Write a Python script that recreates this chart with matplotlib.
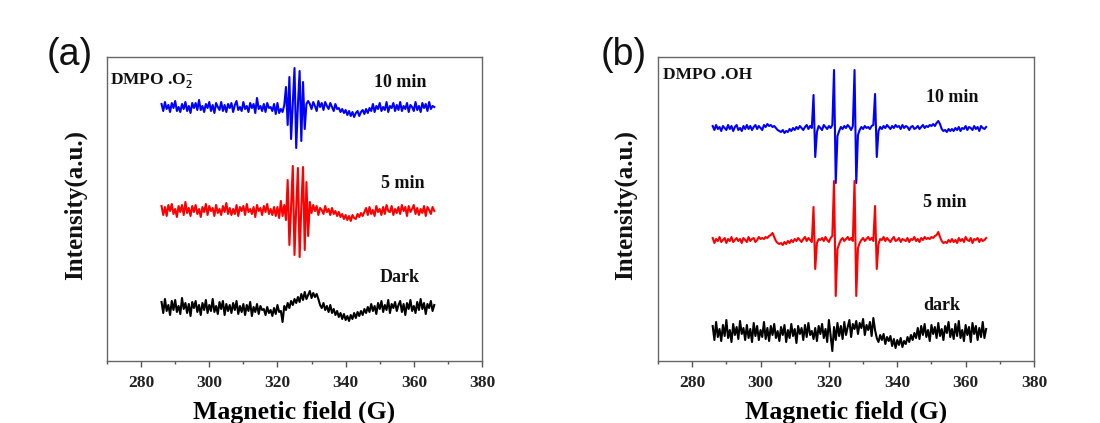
import numpy as np
import matplotlib
matplotlib.use("Agg")
import matplotlib.pyplot as plt
from matplotlib.ticker import MultipleLocator

plt.rcParams['mathtext.fontset'] = 'custom'
plt.rcParams['mathtext.rm'] = 'Liberation Serif:bold'
plt.rcParams['mathtext.it'] = 'Liberation Serif:bold'
plt.rcParams['mathtext.bf'] = 'Liberation Serif:bold'

# ---------------- data ----------------
field = np.arange(286.0, 366.01, 0.5)   # magnetic field (G), sampling of traces

# Panel (a): DMPO-O2-  (intensity relative to each trace baseline, a.u.)
a_10min = [3,-4,5,-2,2,-5,4,-1,6,-4,0,-5,3,-2,5,-4,1,-6,4,-1,
           4,-3,7,-3,1,-5,3,-1,5,-4,2,-6,4,0,-3,5,-4,2,-5,3,
           -1,4,-5,2,6,-3,0,-4,5,-2,1,-5,4,-1,3,-6,9,-2,1,-4,
           3,-5,4,-1,0,-4,3,-7,4,-6,-2,-5,2,20,-18,30,-32,4,39,-41,
           2,36,-34,25,-22,3,6,3,-2,5,1,-4,6,0,4,-3,5,1,-2,4,
           0,-4,3,-2,-1,-5,-2,-6,-3,-8,-4,-9,-5,-10,-6,-4,-9,-5,-3,-7,
           -2,-6,-1,-4,3,-5,1,-2,4,-4,0,-3,5,-5,1,-1,4,-4,2,-3,
           5,-4,1,-2,4,-5,2,0,-4,5,-3,1,-5,4,-1,3,-4,5,-2,1,
           0]
a_5min = [4,-5,3,-6,5,-1,6,-4,1,-7,4,-2,5,-5,8,-3,2,-6,4,-2,
          5,-4,1,-7,3,-2,6,-5,4,-1,2,-6,5,-3,1,-5,4,-2,7,-4,
          2,-5,1,-4,5,-6,3,-1,4,-5,6,-2,1,-4,3,-7,5,-1,2,-5,
          4,-2,6,-4,1,-5,3,-6,3,-8,9,-6,5,-10,30,-35,3,44,-45,2,
          42,-47,3,43,-40,28,-26,8,-3,5,-1,4,-5,2,0,-4,4,-2,1,-5,
          2,-4,-1,-6,-2,-7,-4,-9,-5,-10,-6,-11,-5,-8,-9,-4,-7,-3,-6,-2,
          2,-5,3,-4,0,-6,4,-2,1,-5,3,-4,5,-1,-2,4,-5,1,-3,3,
          -4,5,-1,3,-6,4,-2,1,5,-4,2,-5,1,-3,4,-6,3,0,-4,3,
          -1]
a_dark = [5,-6,8,-4,2,-8,6,-3,7,-5,1,-7,9,-2,4,-6,3,-9,5,-1,
          6,-5,2,-8,4,-3,7,-6,2,-4,8,-5,1,-7,5,-2,6,-8,3,-4,
          2,-6,4,-3,6,-7,1,-5,3,-8,2,-4,5,-9,0,-5,3,-7,1,-3,
          -2,-8,0,-6,-3,-9,-1,-7,2,-5,-4,-15,1,-3,4,-1,6,2,8,4,
          10,5,13,7,15,8,12,16,9,14,10,13,8,2,-1,4,-3,1,-5,2,
          -6,-2,-8,-4,-10,-6,-12,-7,-13,-9,-14,-8,-12,-6,-11,-5,-9,-4,-8,-2,
          -6,0,-5,3,-4,1,-7,4,-2,6,-5,2,-3,7,-6,3,-1,5,-4,2,
          6,-5,3,-8,4,-2,7,-4,1,-6,5,-3,8,-2,4,-7,3,-1,6,-4,
          2]

# Panel (b): DMPO-OH
b_10min = [2,-2,3,-1,1,-3,2,0,-2,3,-1,2,-3,1,3,-2,0,-3,2,-1,
           3,-1,2,-2,1,3,-1,2,0,-2,3,1,4,2,3,1,2,0,-2,-3,
           -4,-2,-5,-3,-4,-1,-3,0,-2,1,-1,2,0,-2,1,3,-1,2,0,33,
           -29,-4,2,0,-2,3,1,-1,2,0,3,58,-55,-8,-3,1,-1,2,0,3,
           1,-2,2,58,-55,-7,-2,1,-1,2,0,1,-1,2,3,34,-29,-3,1,-1,
           2,0,3,1,-1,2,0,3,1,2,-1,3,0,2,1,-2,1,2,-1,0,
           2,-1,1,3,0,2,1,3,2,4,2,5,7,4,-1,-3,-2,-4,-1,-3,
           -1,-3,0,-2,1,-3,0,-1,2,-2,1,0,-2,2,-1,1,-3,2,0,-1,
           1]
b_5min = [2,-3,1,-1,3,-2,0,2,-3,1,-1,3,-2,0,2,-1,1,-3,2,0,
          -2,3,-1,1,2,-2,0,3,1,2,1,3,2,4,5,7,3,-1,-3,-4,
          -3,-5,-2,-4,-1,-3,0,-2,1,-1,2,0,-2,1,3,-1,2,0,-2,33,
          -29,-3,1,0,2,-1,3,0,-2,2,4,59,-56,-9,-4,0,2,-1,1,3,
          0,2,-1,59,-56,-8,-3,0,2,-1,1,3,0,2,-1,34,-29,-4,1,0,
          3,-1,2,0,-2,1,3,-1,0,2,-2,1,0,-1,2,-2,1,0,3,-1,
          1,-2,2,0,3,1,2,1,3,2,4,5,8,3,-1,-3,-2,-3,0,-2,
          1,-2,0,-3,2,-1,1,-2,3,0,-1,2,-3,1,0,2,-2,1,-1,0,
          2]
b_dark = [6,-8,10,-5,3,-9,7,-4,12,-6,2,-10,8,-3,5,-7,11,-2,4,-8,
          7,-6,3,-10,9,-4,6,-8,2,-5,10,-7,4,-9,6,-3,8,-6,1,-9,
          5,-3,7,-10,2,-6,8,-4,3,-11,6,-2,4,-8,7,-5,9,-3,1,-7,
          4,-9,6,-2,8,-6,3,-10,12,-4,-19,5,-8,9,-4,6,-7,10,-3,5,
          12,-5,8,3,11,-2,9,4,13,-3,7,2,10,-4,14,2,-6,-10,-3,-8,
          -2,-12,-5,-9,-4,-14,-7,-16,-8,-13,-6,-15,-9,-12,-5,-10,-3,-8,-1,-6,
          4,-7,6,-3,8,-5,2,-9,7,-2,5,-6,9,-4,3,-8,6,-1,10,-5,
          3,-7,8,-4,11,-6,2,-9,7,-3,5,-10,9,-2,6,-8,4,-5,10,-6,
          3]

labels_a = ["10 min", "5 min", "Dark"]
labels_b = ["10 min", "5 min", "dark"]
xticks = [280, 300, 320, 340, 360, 380]

# ---------------- figure ----------------
W, H = 1100, 423
fig = plt.figure(figsize=(W / 100, H / 100), dpi=100)

def px_ax(x0, y0, x1, y1):
    return fig.add_axes([x0 / W, 1 - y1 / H, (x1 - x0) / W, (y1 - y0) / H])

serif = 'Liberation Serif'
colors = ['#0000FF', '#FF0000', '#000000']

def panel(ax, traces, offsets, labels, label_pos, title, title_pos, letter, letter_pos, ylab_x):
    for tr, off, c in zip(traces, offsets, colors):
        ax.plot(field, np.asarray(tr, dtype=float) + off, color=c, lw=1.5)
    ax.set_xlim(270, 380)
    ax.set_ylim(0, 304)
    ax.set_yticks([])
    ax.set_xticks(xticks)
    ax.xaxis.set_minor_locator(MultipleLocator(10))
    ax.tick_params(axis='x', which='major', direction='out', length=4, width=1, color='#555555', pad=6)
    ax.tick_params(axis='x', which='minor', direction='out', length=2.5, width=1, color='#555555')
    for lab in ax.get_xticklabels():
        lab.set_fontfamily(serif)
        lab.set_fontweight('bold')
        lab.set_fontsize(12.5)
        lab.set_color('#222222')
    for s in ax.spines.values():
        s.set_color('#666666')
        s.set_linewidth(1.0)
    ax.set_xlabel('Magnetic field (G)', fontfamily=serif, fontweight='bold', fontsize=18.5, labelpad=7)
    for lab, (lx, ly) in zip(labels, label_pos):
        fig.text(lx / W, 1 - ly / H, lab, fontfamily=serif, fontweight='bold', fontsize=13,
                 ha='center', va='center', color='#111111')
    fig.text(title_pos[0] / W, 1 - title_pos[1] / H, title, fontfamily=serif, fontweight='bold',
             fontsize=12.5, ha='left', va='center', color='#111111')
    fig.text(letter_pos[0] / W, 1 - letter_pos[1] / H, letter, fontfamily='Liberation Sans',
             fontsize=27, ha='center', va='center', color='#111111')
    fig.text(ylab_x / W, 1 - 205 / H, 'Intensity(a.u.)', fontfamily=serif, fontweight='bold',
             fontsize=18, rotation=90, ha='center', va='center', color='#111111')

ax_a = px_ax(107, 57, 482, 361)
panel(ax_a, [a_10min, a_5min, a_dark], [254, 151, 54], labels_a,
      [(400, 82), (403, 183), (400, 278)], r'DMPO .O$_2^{-}$', (110, 80),
      '(a)', (70, 55), 75)

ax_b = px_ax(658, 57, 1034, 361)
panel(ax_b, [b_10min, b_5min, b_dark], [233, 121, 29], labels_b,
      [(952, 97), (945, 202), (942, 305)], 'DMPO .OH', (663, 75),
      '(b)', (624, 55), 625)

fig.savefig('out.png', dpi=100)
